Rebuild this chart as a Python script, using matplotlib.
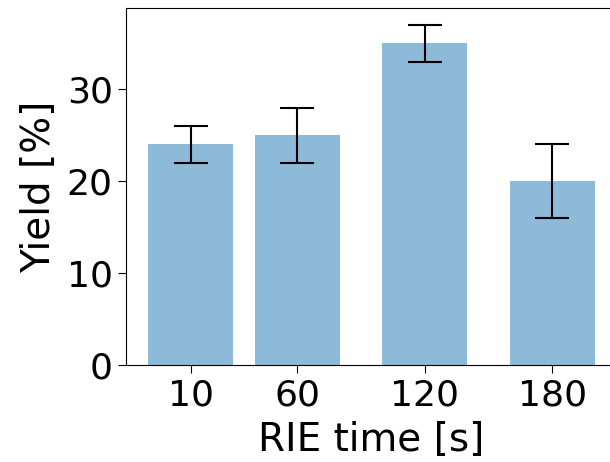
import matplotlib.pyplot as plt

# RIE time [s] and yield [%]
rie_time = [10, 60, 120, 180]
yield_pct = [24, 25, 35, 20]
yield_err = [2, 3, 2, 4]

fig = plt.figure(figsize=(6.1, 4.62), dpi=100)
ax = fig.add_axes([0.2066, 0.21, 0.805, 0.773])

ax.bar(rie_time, yield_pct, width=40, yerr=yield_err, color='tab:blue', alpha=0.5,
       capsize=12, error_kw=dict(ecolor='black', elinewidth=1.5, capthick=1.5, alpha=1))

ax.set_xticks(rie_time)
ax.set_yticks([0, 10, 20, 30])
ax.tick_params(labelsize=26, length=6)
ax.set_xlabel("RIE time [s]", fontsize=28, labelpad=6)
ax.set_ylabel("Yield [%]", fontsize=28, labelpad=6)

plt.savefig("out.png", dpi=100)
